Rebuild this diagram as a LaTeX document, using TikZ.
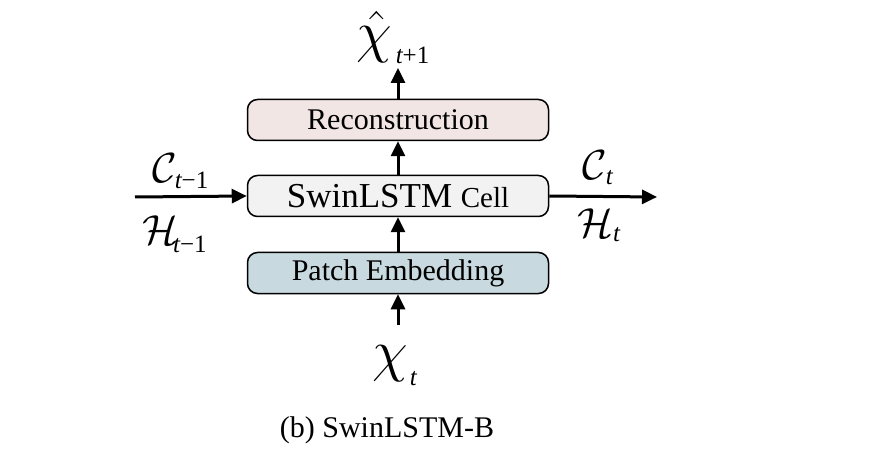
\RequirePackage{fix-cm}
\documentclass[tikz,border=0pt]{standalone}
\usepackage{fontspec}
\setmainfont{Liberation Serif}
\usetikzlibrary{arrows.meta}
\definecolor{reccol}{HTML}{F2E6E4}
\definecolor{cellcol}{HTML}{F2F2F2}
\definecolor{patchcol}{HTML}{C8DADF}
\newcommand{\mysub}[2]{\raisebox{-#1}{\fontsize{25}{25}\selectfont #2}}
\newcommand{\mychi}{{\fontsize{58}{58}\selectfont$\chi$}}
\newcommand{\mychihat}{{\fontsize{58}{58}\selectfont$\hat{\chi}$}}
\newcommand{\mycalm}[1]{{\fontsize{42}{42}\selectfont$\mathcal{#1}$}}
\tikzset{
  blockbox/.style={draw=black, line width=1.5pt, rounded corners=10pt, minimum width=301pt, minimum height=41pt, inner sep=0pt},
  flow/.style={line width=3pt, -{Triangle[length=15pt,width=14pt]}},
  txt/.style={font=\fontsize{30}{36}\selectfont},
  mlab/.style={inner sep=0pt, anchor=base west}
}
\begin{document}
\begin{tikzpicture}[x=1pt,y=-1pt]
\useasboundingbox (0,0) rectangle (880,462);
\node[blockbox, fill=reccol, txt] (rec) at (398,120) {Reconstruction};
\node[blockbox, fill=cellcol] (cell) at (398,196) {\fontsize{35}{40}\selectfont SwinLSTM \fontsize{29}{34}\selectfont Cell};
\node[blockbox, fill=patchcol, txt] (patch) at (398,273) {Patch Embedding};
\node[mlab] (xhat) at (356,52) {\mychihat\kern4pt\mysub{12pt}{{\itshape t}+1}};
\node[mlab] (xt) at (372,370) {\mychi\kern2pt\mysub{15pt}{\itshape t}};
\coordinate (top) at (398,68);
\coordinate (bot) at (398,325);
\coordinate (lin) at (135,197);
\coordinate (rout) at (657,197);
\node[mlab] (cprev) at (152,183) {\mycalm{C}\kern-2pt\mysub{6pt}{{\itshape t}−1}};
\node[mlab] (hprev) at (142,245) {\mycalm{H}\kern-5pt\mysub{8pt}{{\itshape t}−1}};
\node[mlab] (ccur) at (582,180) {\mycalm{C}\kern-1pt\mysub{5pt}{\itshape t}};
\node[mlab] (hcur) at (577,237) {\mycalm{H}\kern0pt\mysub{5pt}{\itshape t}};
\draw[flow] (rec.north) -- (top);
\draw[flow] (cell.north) -- (rec.south);
\draw[flow] (patch.north) -- (cell.south);
\draw[flow] (bot) -- (patch.south);
\draw[flow] (lin) -- (cell.west);
\draw[flow] (cell.east) -- (rout);
\node[font=\fontsize{30}{36}\selectfont] (cap) at (387,430) {(b) SwinLSTM-B};
\end{tikzpicture}
\end{document}
